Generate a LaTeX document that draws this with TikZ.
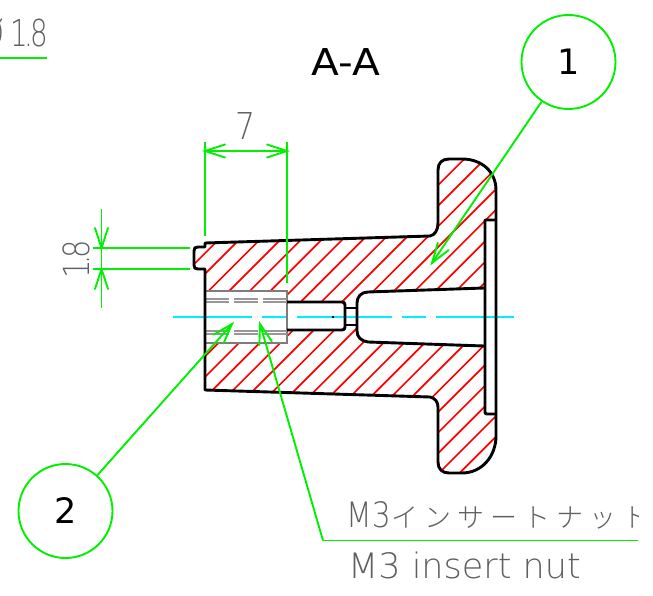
\documentclass[tikz,border=0pt]{standalone}
\usepackage{fontspec}
\usetikzlibrary{arrows.meta}
\setmainfont{DejaVu Sans}[UprightFont=* ExtraLight]
\newfontfamily\titlefont{DejaVu Sans}
\newfontfamily\tightfont{DejaVu Sans}[UprightFont=* ExtraLight,LetterSpace=-12]
\newfontfamily\jpfont{Noto Sans CJK JP}[UprightFont=* Light,LetterSpace=22]
\definecolor{dimgreen}{RGB}{0,240,0}
\definecolor{cl}{RGB}{0,240,250}
\definecolor{txtgray}{RGB}{125,125,125}
\definecolor{textgray}{RGB}{95,95,95}
\pgfdeclarearrow{
  name=VBarb,
  setup code={\pgfarrowssettipend{0pt}\pgfarrowssetlineend{-1pt}\pgfarrowssetbackend{-20pt}},
  drawing code={\pgfsetdash{}{0pt}\pgfsetroundcap\pgfsetmiterjoin
    \pgfpathmoveto{\pgfqpoint{-20pt}{6.5pt}}\pgfpathlineto{\pgfqpoint{0pt}{0pt}}\pgfpathlineto{\pgfqpoint{-20pt}{-6.5pt}}\pgfusepathqstroke}
}
\tikzset{
  outline/.style={draw=black,line width=2.9pt,line join=round},
  hatchline/.style={draw=red,line width=1.7pt},
  dimline/.style={draw=dimgreen,line width=1.9pt},
  dimarrow/.style={dimline,-{VBarb}},
  balloon/.style={circle,draw=dimgreen,line width=1.9pt,minimum size=94pt,inner sep=0pt,font=\titlefont\fontsize{35}{35}\selectfont},
  graylabel/.style={text=textgray,inner sep=0pt},
  insertline/.style={draw=txtgray,line width=2pt},
}
\begin{document}
\begin{tikzpicture}[x=1pt,y=-1pt]
\useasboundingbox (0,0) rectangle (653,596);
\clip (0,0) rectangle (653,596);
\def\outlinepath{(205,243) -- (205,247) -- (198,247) .. controls (195,247) and (194,248) .. (194,251) -- (194,265) .. controls (194,268) and (195,269) .. (198,269) -- (205,269) -- (205,390) -- (430,397) .. controls (435,398) and (438,402) .. (438,407) -- (438,462) .. controls (438,469) and (442,473) .. (449,473) -- (462,473) .. controls (482,473) and (496,456) .. (496,436) -- (496,190) .. controls (496,172) and (482,159) .. (462,159) -- (449,159) .. controls (442,159) and (438,163) .. (438,170) -- (438,223) .. controls (438,230) and (435,235) .. (430,236) -- cycle}
\def\cavitypath{(485,288) -- (368,292) .. controls (361,292) and (357,297) .. (357,303) -- (357,331) .. controls (357,337) and (361,341) .. (368,342) -- (485,346) -- cycle}
\def\borepath{(287,302) -- (342,302) .. controls (344,302) and (345,303) .. (345,305) -- (345,327) .. controls (345,329) and (344,330) .. (342,330) -- (287,330)}
% hatching
\begin{scope}
\clip \outlinepath;
\foreach \k in {-7,...,20}{
  \pgfmathsetmacro{\c}{582+\k*20.625}
  \draw[hatchline] ({\c-140},140) -- ({\c-480},480);
}
\end{scope}
% openings
\fill[white] \cavitypath;
\fill[white] (485,220) rectangle (496,414);
\fill[white] (287,302) rectangle (345,330);
\fill[white] (345,308) rectangle (357,325);
\fill[white] (205,291) rectangle (287,343);
% centre line
\draw[cl,line width=1.9pt,dash pattern=on 79pt off 10pt on 25pt off 10pt on 95pt off 10pt on 24pt off 10pt on 78pt] (173,317) -- (515,317);
% insert nut
\draw[insertline] (205,291) rectangle (287,343);
\foreach \y in {299,302,331,334}{
  \draw[draw=txtgray!80,line width=1.5pt,dash pattern=on 24pt off 5pt] (205,\y) -- (287,\y);
}
% part outline
\draw[outline] \outlinepath;
\draw[outline] (484,288) -- (368,292) .. controls (361,292) and (357,297) .. (357,303) -- (357,331) .. controls (357,337) and (361,341) .. (368,342) -- (484,346);
\draw[outline] (496,220) -- (485,220) -- (485,412) .. controls (485,413.5) and (485.5,414) .. (487,414) -- (496,414);
\draw[outline] \borepath;
\draw[black,line width=1.6pt] (345,308) -- (357,308) (345,325) -- (357,325);
\fill[black] (333,317) circle (1.3pt);
% dimension 7
\coordinate (d7a) at (205,151);
\coordinate (d7b) at (287,151);
\coordinate (d7m) at (246,151);
\draw[dimline] (205,142) -- (205,236);
\draw[dimline] (287,142) -- (287,283);
\draw[dimarrow] (d7m) -- (d7a);
\draw[dimarrow] (d7m) -- (d7b);
\node[graylabel,font=\fontsize{37}{37}\selectfont,xscale=.85] (seven) at (246,126) {7};
% dimension 1.8
\coordinate (d18t) at (101.5,248);
\coordinate (d18b) at (101.5,269);
\coordinate (d18tt) at (101.5,209);
\coordinate (d18bb) at (101.5,308);
\draw[dimline] (93,248) -- (190,248);
\draw[dimline] (93,269) -- (190,269);
\draw[dimline] (d18t) -- (d18b);
\draw[dimarrow] (d18tt) -- (d18t);
\draw[dimarrow] (d18bb) -- (d18b);
\node[graylabel,rotate=90,font=\tightfont\fontsize{36}{36}\selectfont,xscale=.8] (onept) at (76,259.5) {1.8};
% title
\node[inner sep=0pt,font=\titlefont\fontsize{37}{37}\selectfont,xscale=1.1] (title) at (346,62) {A-A};
% balloons
\node[balloon] (b1) at (568.5,62) {1};
\node[balloon] (b2) at (65.5,511) {2};
\coordinate (tip1) at (432,263);
\coordinate (tip2) at (232,324);
\coordinate (tip3) at (260,324);
\coordinate (knee) at (323,540.5);
\coordinate (lend) at (638,540.5);
\draw[dimarrow] (b1) -- (tip1);
\draw[dimarrow] (b2) -- (tip2);
\draw[dimline] (lend) -- (knee);
\draw[dimarrow] (knee) -- (tip3);
% notes
\begin{scope}
\clip (340,480) rectangle (638,535);
\node[graylabel,anchor=base west,font=\fontsize{35}{35}\selectfont] (jp) at (346,527) {\scalebox{0.85}[1]{M3}\hspace{1pt}{\jpfont\fontsize{27}{27}\selectfont インサートナット}};
\end{scope}
\node[graylabel,anchor=base west,font=\fontsize{35}{35}\selectfont] (en) at (348,578) {M3 insert nut};
% top-left fragment
\node[graylabel,anchor=base east,font=\tightfont\fontsize{37}{37}\selectfont,xscale=.75] (dia) at (48,47) {Ø\hspace{8pt}1.8};
\coordinate (ula) at (0,58);
\coordinate (ulb) at (47,58);
\draw[dimline] (ula) -- (ulb);
\end{tikzpicture}
\end{document}
